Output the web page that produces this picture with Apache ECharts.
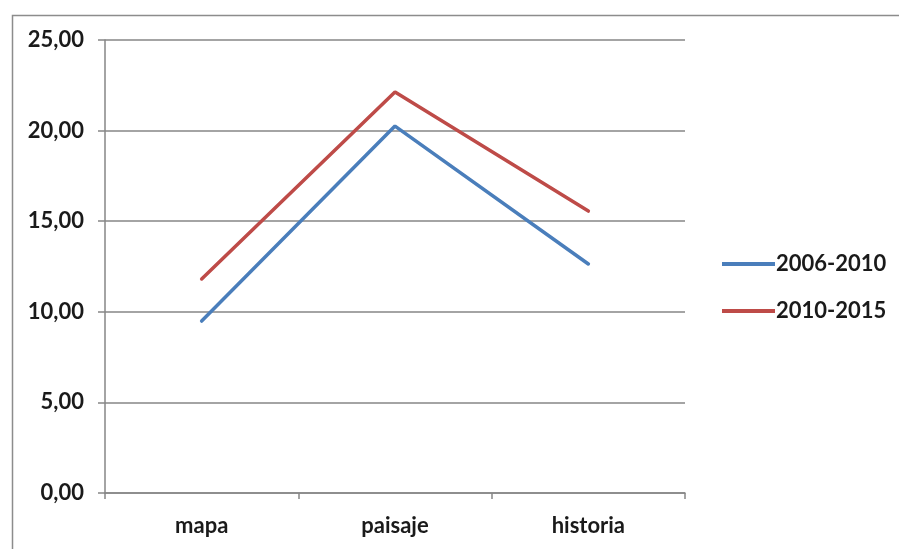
<!DOCTYPE html>
<html>
<head>
<meta charset="utf-8">
<script src="https://cdn.jsdelivr.net/npm/echarts@6/dist/echarts.min.js"></script>
<style>
  html, body { margin: 0; padding: 0; background: #fff; }
  #chart { width: 899px; height: 549px; }
</style>
</head>
<body>
<div id="chart"></div>
<script>
// Categories and series values
const categories = ['mapa', 'paisaje', 'historia'];
const series2006 = [9.49, 20.25, 12.64];
const series2010 = [11.81, 22.13, 15.56];
const seriesNames = ['2006-2010', '2010-2015'];

const FONT = 'Lato';
const FONT_SIZE = 22;
const FONT_WEIGHT = 'bold';
const TEXT_COLOR = '#1a1a1a';
const GRID_COLOR = '#868686';

const chart = echarts.init(document.getElementById('chart'), null, { renderer: 'canvas' });

const fmt = v => v.toFixed(2).replace('.', ',');

chart.setOption({
  backgroundColor: '#fff',
  animation: false,
  textStyle: { fontFamily: FONT },
  graphic: [{
    type: 'rect',
    left: 10, top: 13,
    shape: { width: 1000, height: 1000 },
    style: { fill: 'none', stroke: '#8c8c8c', lineWidth: 1.5 },
    silent: true, z: -1
  }],
  grid: { left: 105, right: 214, top: 40, bottom: 56, containLabel: false },
  legend: {
    orient: 'vertical',
    left: 717, top: 248,
    itemWidth: 53, itemHeight: 4, itemGap: 25,
    icon: 'rect',
    textStyle: { fontFamily: FONT, fontSize: FONT_SIZE, fontWeight: FONT_WEIGHT, color: TEXT_COLOR, padding: [0, 0, 0, -4] },
    data: seriesNames
  },
  xAxis: {
    type: 'category',
    data: categories,
    boundaryGap: true,
    axisLine: { lineStyle: { color: GRID_COLOR, width: 1.5 } },
    axisTick: { show: true, length: 6, interval: 0, lineStyle: { color: GRID_COLOR, width: 1.5 } },
    axisLabel: { fontFamily: FONT, fontSize: FONT_SIZE, fontWeight: FONT_WEIGHT, color: TEXT_COLOR, margin: 22 }
  },
  yAxis: {
    type: 'value',
    min: 0, max: 25, interval: 5,
    axisLine: { show: true, lineStyle: { color: GRID_COLOR, width: 1.5 } },
    axisTick: { show: true, length: 7, lineStyle: { color: GRID_COLOR, width: 1.5 } },
    splitLine: { lineStyle: { color: GRID_COLOR, width: 1.5 } },
    axisLabel: { fontFamily: FONT, fontSize: FONT_SIZE, fontWeight: FONT_WEIGHT, color: TEXT_COLOR, margin: 21, formatter: fmt }
  },
  series: [
    {
      name: seriesNames[0], type: 'line', data: series2006,
      symbol: 'none', color: '#4A7EBB',
      lineStyle: { width: 3.5, color: '#4A7EBB', cap: 'round' }
    },
    {
      name: seriesNames[1], type: 'line', data: series2010,
      symbol: 'none', color: '#BE4B48',
      lineStyle: { width: 3.5, color: '#BE4B48', cap: 'round' }
    }
  ]
});
</script>
</body>
</html>
